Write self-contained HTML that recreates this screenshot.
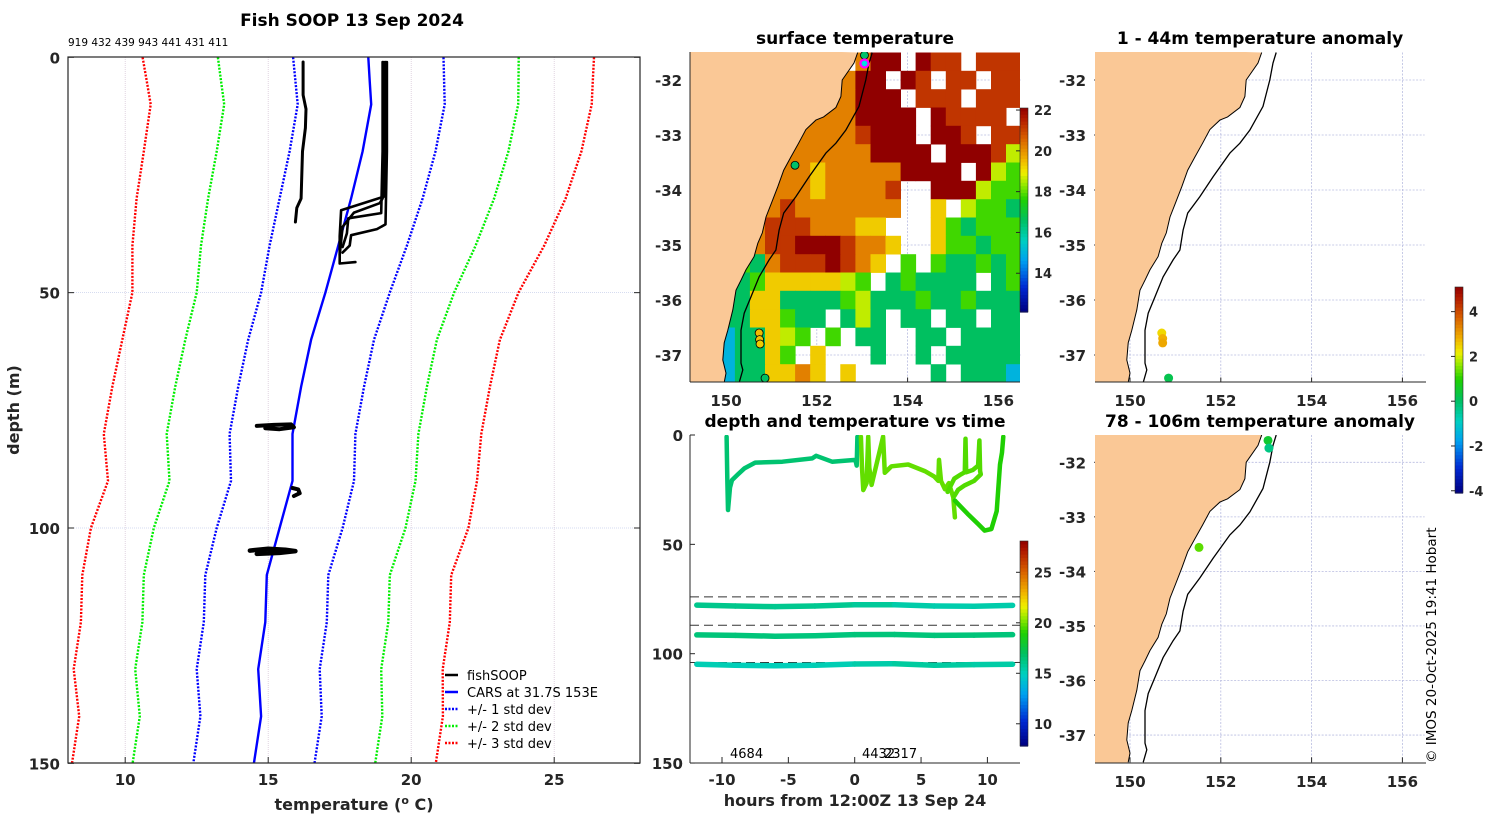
<!DOCTYPE html>
<html><head><meta charset="utf-8">
<style>
html,body{margin:0;padding:0;background:#fff;}
svg{display:block;font-family:"DejaVu Sans","Liberation Sans",sans-serif;}
.tk{font-size:15px;font-weight:bold;fill:#262626;}
.ttl{font-size:17px;font-weight:bold;fill:#000;}
.lab{font-size:16px;font-weight:bold;fill:#262626;}
.cb{font-size:13px;font-weight:bold;fill:#262626;}
.sm{font-size:13px;fill:#000;}
</style></head>
<body>
<svg id="fig" width="1500" height="820" viewBox="0 0 1500 820">
<defs>
<clipPath id="clipL"><rect x="68" y="57" width="572" height="706"/></clipPath>
<clipPath id="clipM1"><rect x="690" y="52" width="330" height="330"/></clipPath>
<clipPath id="clipR1"><rect x="1095" y="52" width="331" height="330"/></clipPath>
<clipPath id="clipR2"><rect x="1095" y="435" width="331" height="328"/></clipPath>
<clipPath id="clipM2"><rect x="690" y="435" width="330" height="328"/></clipPath>
</defs>
<g id="gL"></g>
<g id="gM1"></g>
<g id="gM2"></g>
<g id="gR1"></g>
<g id="gR2"></g>

<text x="352" y="26" text-anchor="middle" style="font-size:17px;font-weight:bold">Fish SOOP 13 Sep 2024</text>
<text x="68" y="46" style="font-size:10.5px">919 432 439 943 441 431 411</text>
<text x="354" y="810" text-anchor="middle" class="lab">temperature (<tspan dy="-6" style="font-size:11px">o</tspan><tspan dy="6"> C)</tspan></text>
<text transform="translate(19,410) rotate(-90)" text-anchor="middle" class="lab">depth (m)</text>

<g>
<line x1="445" y1="675" x2="458" y2="675" stroke="#000" stroke-width="2.5"/>
<text x="467" y="680" class="sm">fishSOOP</text>
<line x1="445" y1="692" x2="458" y2="692" stroke="#0000ff" stroke-width="2.5"/>
<text x="467" y="697" class="sm">CARS at 31.7S 153E</text>
<line x1="445" y1="709" x2="458" y2="709" stroke="#0000ff" stroke-width="2.5" stroke-dasharray="2 1.5"/>
<text x="467" y="714" class="sm">+/- 1 std dev</text>
<line x1="445" y1="726" x2="458" y2="726" stroke="#00ee00" stroke-width="2.5" stroke-dasharray="2 1.5"/>
<text x="467" y="731" class="sm">+/- 2 std dev</text>
<line x1="445" y1="743" x2="458" y2="743" stroke="#ff0000" stroke-width="2.5" stroke-dasharray="2 1.5"/>
<text x="467" y="748" class="sm">+/- 3 std dev</text>
</g>

<text x="855" y="44" text-anchor="middle" class="ttl">surface temperature</text>
<text x="855" y="427" text-anchor="middle" class="ttl">depth and temperature vs time</text>
<text x="855" y="806" text-anchor="middle" class="lab">hours from 12:00Z 13 Sep 24</text>
<text x="1260" y="44" text-anchor="middle" class="ttl">1 - 44m temperature anomaly</text>
<text x="1260" y="427" text-anchor="middle" class="ttl">78 - 106m temperature anomaly</text>
<text x="730" y="758" class="sm">4684</text>
<text x="862" y="758" class="sm">4432</text>
<text x="884" y="758" class="sm">2317</text>
<text transform="translate(1436,763) rotate(-90)" style="font-size:13.5px">© IMOS 20-Oct-2025 19:41 Hobart</text>
</svg>
<script>
// ===== Left panel data =====
const depthLevels=[0,5,10,20,30,40,50,60,70,80,90,100,110,120,130,140,150];
const carsMean=[18.5,18.55,18.6,18.3,17.9,17.45,17.0,16.5,16.15,15.85,15.85,15.4,14.95,14.9,14.65,14.75,14.5];
const carsStd=[2.63,2.6,2.57,2.55,2.5,2.4,2.25,2.2,2.2,2.2,2.15,2.2,2.15,2.15,2.15,2.12,2.12];
const tempTicks=[10,15,20,25];
const depthTicks=[0,50,100,150];
const fishATemp=[16.22,16.22,16.32,16.3,16.2,16.15,16.0,15.95];
const fishADepth=[1,8,11,15,20,30,32,35];
const fishB1Temp=[19.1,19.1,19.05,17.55,17.5,17.5,18.05];
const fishB1Depth=[1,15,29.6,32.5,38,43.8,43.5];
const fishB2Temp=[19.0,19.0,18.95,17.8,17.75,17.6];
const fishB2Depth=[1,20,33.1,34.2,37.4,40.3];
const fishB3Temp=[19.15,19.15,19.1,18.8,17.9,17.85,17.6];
const fishB3Depth=[1,20,35.5,36.5,37.8,40,41.5];
const fishB4Temp=[19.05,19.05,19.0,18.9,18.0,17.6,17.5];
const fishB4Depth=[1,20,30,31,33,36,42];
const blob1Temp=[14.6,15.2,15.8,15.9,15.4,14.9];
const blob1Depth=[78.3,78.1,78.0,78.6,79.0,78.8];
const blob2Temp=[15.85,16.05,16.1,15.9];
const blob2Depth=[91.5,91.8,92.6,93.2];
const blob3Temp=[14.36,15.0,15.6,15.95,15.4,14.6];
const blob3Depth=[104.8,104.4,104.6,104.9,105.3,105.5];

// ===== Map data =====
const lonTicks=[150,152,154,156];
const latTicks=[-32,-33,-34,-35,-36,-37];
const coastLon=[152.9,152.82,152.56,152.53,152.42,152.15,151.98,151.76,151.6,151.43,151.27,151.14,151.0,150.88,150.8,150.7,150.62,150.44,150.33,150.22,150.15,150.04,149.96,149.93,150.0,149.96];
const coastLat=[-31.5,-31.69,-32.0,-32.3,-32.5,-32.67,-32.73,-32.9,-33.15,-33.4,-33.64,-33.94,-34.24,-34.49,-34.78,-34.97,-35.21,-35.45,-35.64,-35.82,-36.18,-36.55,-36.78,-37.09,-37.33,-37.5];
const isoLon=[153.22,153.15,153.08,152.93,152.64,152.42,152.2,151.83,151.54,151.27,151.17,151.1,150.95,150.73,150.55,150.4,150.33,150.33,150.37,150.29];
const isoLat=[-31.5,-31.69,-32.0,-32.48,-32.91,-33.15,-33.33,-33.76,-34.12,-34.42,-34.73,-35.09,-35.27,-35.58,-35.94,-36.24,-36.55,-37.15,-37.27,-37.5];
// SST grid: 22 cols x 18 rows, each char a temperature class ('.'/'L' = no data)
const sstCodeTemps={r:22.2,R:21.2,o:20.2,y:19.3,Y:18.6,g:17.8,G:16.6,c:15.0};
const sstRows=[
"LLLLLLLLLLLorr.rRR.RRR",
"LLLLLLLLLoorr.rR.RR.RR",
"LLLLLLLLLoorrr.RRR.RRR",
"LLLLLLLLooorrrr.rRRRR.",
"LLLLLLLooooRrrr.rrR.RR",
"LLLLLLoooooorrrr.rrrRY",
"LLLLLLooyooooorrrr.rYg",
"LLLLLoooyooooR..rrrYgg",
"LLLLLoRooooooo..y.YggG",
"LLLLoRRRoooyy...ygGggg",
"LLLLoRRrrrRooy..yggGgg",
"LLLgGoRRRrRoy.g.gGGgGg",
"LLLGgyyyyyYg.GgGGGG.Gg",
"LLGGyyGGGGgYGGGgGGgGGG",
"LLGGyygGG.GYG.GG.GG.GG",
"LLcGGyYg.g.GG..GG.GGGG",
"LccGGyg.y...G..G.GGGGG",
"LccGGyyoy.y.....G.GGGc"];
const sstMin=12.1, sstMax=22.1;
const sstDotLon=[153.05,151.52,150.86];
const sstDotLat=[-31.55,-33.55,-37.42];
const sstDotTemp=[16.5,16.5,16.6];
const sstRingLon=[150.73,150.74,150.75];
const sstRingLat=[-36.6,-36.72,-36.8];
const sstRingTemp=[19.5,19.4,19.3];
const sstCbTicks=[14,16,18,20,22];

// ===== Depth-time data =====
const hourTicks=[-10,-5,0,5,10];
const dtDepthTicks=[0,50,100,150];
const track1Time=[-9.65,-9.6,-9.55,-9.4,-9.25,-8.8,-8.3,-7.5,-5.45,-3.2,-2.9,-1.7,0.05,0.15,0.2];
const track1Depth=[0.8,20,34.3,24,20.6,18,15.2,12.6,12.2,10.7,9.5,12.2,11.4,14,0.8];
const track1Temp=16.6;
const track2aTime=[0.47,0.55,0.65,0.9,1.02,1.1,1.27,2.14,2.27,2.77,4.03,5.28,6.0,6.3,6.35,6.5,6.8,7.1,7.43,7.55];
const track2aDepth=[0.8,15,25.2,22,0.8,15,22.8,0.8,17.3,14.3,13.5,16.5,19,21,11.4,21,24.8,22,28.6,37.7];
const track2aTemp=19.8;
const track2bTime=[7.0,7.5,8.0,8.3,8.35,8.4,8.9,9.3,9.4,9.45,9.5,9.0,8.3,7.8,7.5];
const track2bDepth=[26,20,18,17,1.7,17,16,14,2.5,16.5,18,21,23,25,28];
const track2bTemp=19.6;
const track2cTime=[7.55,7.8,8.5,9.3,9.8,10.3,10.7,10.95,11.1,11.2];
const track2cDepth=[30,31.6,36,40.7,43.7,43,34.8,13.5,8,0.8];
const track2cTemp=18.9;
const deepTime=[-11.9,-9,-6,-3,0,3,6,9,11.9];
const deep1Depth=[77.8,78.2,78.5,78.2,77.6,77.6,78.2,78.3,77.9];
const deep1Temp=[16.0,16.0,16.0,15.9,15.9,15.5,15.3,15.3,15.4];
const deep2Depth=[91.4,91.6,92.0,91.8,91.3,91.2,91.6,91.5,91.3];
const deep2Temp=[16.4,16.4,16.4,16.3,16.4,16.4,16.4,16.4,16.4];
const deep3Depth=[104.8,105.3,105.5,105.3,104.7,104.6,105.3,105.0,104.8];
const deep3Temp=[15.2,15.1,15.0,15.1,15.2,15.6,15.6,15.5,15.4];
const binDepths=[74,87,104];
const dtMin=7.8, dtMax=28.1;
const dtCbTicks=[10,15,20,25];

// ===== Anomaly data =====
const anom1Lon=[150.7,150.72,150.72,150.85];
const anom1Lat=[-36.6,-36.7,-36.78,-37.42];
const anom1Val=[2.4,2.8,2.9,0.2];
const anom2Lon=[153.04,153.06,151.52];
const anom2Lat=[-31.6,-31.74,-33.56];
const anom2Val=[0.5,-0.3,1.3];
const anomMin=-4.1, anomMax=5.1;
const anomTicks=[-4,-2,0,2,4];

// ===== helpers =====
const NS='http://www.w3.org/2000/svg';
function mk(tag,attrs,parent){const e=document.createElementNS(NS,tag);for(const k in attrs)e.setAttribute(k,attrs[k]);parent.appendChild(e);return e;}
const stops=[[0,[0,0,128]],[0.12,[0,40,210]],[0.25,[0,160,240]],[0.35,[0,208,192]],[0.45,[0,192,96]],[0.55,[32,208,0]],[0.62,[144,232,0]],[0.68,[240,240,0]],[0.75,[240,176,0]],[0.85,[216,96,0]],[0.95,[176,24,0]],[1,[144,0,0]]];
function cmap(f){f=Math.max(0,Math.min(1,f));for(let i=1;i<stops.length;i++){if(f<=stops[i][0]){const a=stops[i-1],b=stops[i];const t=(f-a[0])/(b[0]-a[0]);const c=a[1].map((v,k)=>Math.round(v+(b[1][k]-v)*t));return 'rgb('+c.join(',')+')';}}return 'rgb(144,0,0)';}
function pts(xs,ys,fx,fy){return xs.map((x,i)=>fx(x).toFixed(1)+','+fy(ys[i]).toFixed(1)).join(' ');}

// ===== Left panel =====
const gL=document.getElementById('gL');
const xT=t=>68+(t-8)*28.6;
const yD=d=>57.3+d*4.707;
tempTicks.forEach(t=>{
  const l=mk('line',{x1:xT(t),x2:xT(t),y1:57,y2:763,stroke:'#d8c8d8','stroke-width':0.8,'stroke-dasharray':'1 1'},gL);
  
  
  mk('line',{x1:xT(t),x2:xT(t),y1:763,y2:757,stroke:'#262626'},gL);
  const tx=mk('text',{x:xT(t),y:785,'text-anchor':'middle',class:'tk'},gL);tx.textContent=t;
  
  
});
depthTicks.forEach(d=>{
  if(d>0&&d<150){const l=mk('line',{x1:68,x2:640,y1:yD(d),y2:yD(d),stroke:'#c8d0ec','stroke-width':0.8,'stroke-dasharray':'1 1'},gL);
  
  }
  mk('line',{x1:68,x2:74,y1:yD(d),y2:yD(d),stroke:'#262626'},gL);
  mk('line',{x1:634,x2:640,y1:yD(d),y2:yD(d),stroke:'#262626'},gL);
  const tx=mk('text',{x:60,y:yD(d)+6,'text-anchor':'end',class:'tk'},gL);tx.textContent=d;
  
  
});
const gLc=mk('g',{'clip-path':'url(#clipL)'},gL);
[[3,'#ff0000'],[2,'#00ee00'],[1,'#0000ff']].forEach(([k,col])=>{
  [-1,1].forEach(s=>{
    const vals=carsMean.map((m,i)=>m+s*k*carsStd[i]);
    const p=mk('polyline',{points:pts(vals,depthLevels,xT,yD),fill:'none',stroke:col,'stroke-width':2.4,'stroke-dasharray':'2 1.5'},gLc);
    
    
  });
});
const cars=mk('polyline',{points:pts(carsMean,depthLevels,xT,yD),fill:'none',stroke:'#0000ff','stroke-width':2.4},gLc);


[[fishATemp,fishADepth,3],[fishB1Temp,fishB1Depth,2.6],[fishB2Temp,fishB2Depth,2.6],[fishB3Temp,fishB3Depth,2.6],[fishB4Temp,fishB4Depth,2.6],[blob1Temp,blob1Depth,4],[blob2Temp,blob2Depth,4],[blob3Temp,blob3Depth,4.5]].forEach(([t,d,w])=>{
  const p=mk('polyline',{points:pts(t,d,xT,yD),fill:'none',stroke:'#000','stroke-width':w,'stroke-linejoin':'round','stroke-linecap':'round'},gLc);
  
  
});
const boxL=mk('rect',{x:68,y:57,width:572,height:706,fill:'none',stroke:'#262626','stroke-width':1.2},gL);



// ===== Map builder =====
function buildMap(g,ox,oy,sc,clipId,bottomLabelY){
  const mx=lon=>ox+(lon-150)*45.4;
  const my=lat=>oy+(-32-lat)*sc;
  const left=mx(149.21),right=mx(156.49),top=my(-31.5),bot=my(-37.5);
  lonTicks.forEach(l=>{
    const gl=mk('line',{x1:mx(l),x2:mx(l),y1:top,y2:bot,stroke:'#b8bce0','stroke-width':0.8,'stroke-dasharray':'2 1.5'},g);
    
    
    mk('line',{x1:mx(l),x2:mx(l),y1:bot,y2:bot-5,stroke:'#262626'},g);
    const tx=mk('text',{x:mx(l),y:bottomLabelY,'text-anchor':'middle',class:'tk'},g);tx.textContent=l;
    
    
  });
  latTicks.forEach(l=>{
    const gl=mk('line',{x1:left,x2:right,y1:my(l),y2:my(l),stroke:'#b8bce0','stroke-width':0.8,'stroke-dasharray':'2 1.5'},g);
    
    
    mk('line',{x1:left,x2:left+5,y1:my(l),y2:my(l),stroke:'#262626'},g);
    const tx=mk('text',{x:left-8,y:my(l)+6,'text-anchor':'end',class:'tk'},g);tx.textContent=l;
    
    
  });
  const inner=mk('g',{'clip-path':'url(#'+clipId+')'},g);
  return {mx,my,left,right,top,bot,inner};
}
function drawCoast(m){
  const lonP=coastLon.concat([149.0,149.0]),latP=coastLat.concat([-37.6,-31.4]);
  const land=mk('polygon',{points:pts(lonP,latP,m.mx,m.my),fill:'#fac896',stroke:'none'},m.inner);
  
  
  const c=mk('polyline',{points:pts(coastLon,coastLat,m.mx,m.my),fill:'none',stroke:'#000','stroke-width':1},m.inner);
  
  
  const iso=mk('polyline',{points:pts(isoLon,isoLat,m.mx,m.my),fill:'none',stroke:'#000','stroke-width':1.3},m.inner);
  
  
}
function colorbar(g,x,y0,y1,vmin,vmax,ticks,name){
  const n=60,h=(y1-y0)/n;
  for(let i=0;i<n;i++){mk('rect',{x:x,y:y0+i*h,width:8,height:h+0.6,fill:cmap(1-(i+0.5)/n)},g);}
  const fr=mk('rect',{x:x,y:y0,width:8,height:y1-y0,fill:'none',stroke:'#262626','stroke-width':0.6},g);
  
  
  ticks.forEach(t=>{const yy=y1-(t-vmin)/(vmax-vmin)*(y1-y0);
    mk('line',{x1:x-4,x2:x,y1:yy,y2:yy,stroke:'#262626'},g);
    const tx=mk('text',{x:x+14,y:yy+5,class:'cb'},g);tx.textContent=t;
    
    });
}

// ===== SST map =====
const gM1=document.getElementById('gM1');
const m1=buildMap(gM1,726,80,55,'clipM1',406);
const cw=(156.5-149.2)/22, ch=6/18;
sstRows.forEach((row,j)=>{
  for(let i=0;i<row.length;i++){
    const t=sstCodeTemps[row[i]];
    if(t===undefined)continue;
    const x0=m1.mx(149.2+i*cw),x1=m1.mx(149.2+(i+1)*cw),y0=m1.my(-31.5-j*ch),y1=m1.my(-31.5-(j+1)*ch);
    const r=mk('rect',{x:x0.toFixed(1),y:y0.toFixed(1),width:(x1-x0+0.4).toFixed(1),height:(y1-y0+0.4).toFixed(1),fill:cmap((t-sstMin)/(sstMax-sstMin))},m1.inner);
    
    
  }
});
drawCoast(m1);
sstDotLon.forEach((lon,i)=>{
  const c=mk('circle',{cx:m1.mx(lon),cy:m1.my(sstDotLat[i]),r:4,fill:cmap((sstDotTemp[i]-sstMin)/(sstMax-sstMin)),stroke:'#000','stroke-width':0.8},m1.inner);
  
  
});
sstRingLon.forEach((lon,i)=>{
  const c=mk('circle',{cx:m1.mx(lon),cy:m1.my(sstRingLat[i]),r:4,fill:cmap((sstRingTemp[i]-sstMin)/(sstMax-sstMin)),stroke:'#000','stroke-width':0.8},m1.inner);
  
  
});
const vessel=mk('circle',{cx:m1.mx(153.05),cy:m1.my(-31.7),r:4,fill:'#00e0e0',stroke:'#ff00ff','stroke-width':2.2},m1.inner);


mk('line',{x1:690,x2:1020,y1:382,y2:382,stroke:'#262626'},gM1);
mk('line',{x1:690,x2:690,y1:52,y2:382,stroke:'#262626'},gM1);
colorbar(gM1,1020,108,312,sstMin,sstMax,sstCbTicks,'sst-colorbar');

// ===== Depth-time =====
const gM2=document.getElementById('gM2');
const xH=t=>854.7+t*13.27;
const yZ=d=>435+d*2.187;
hourTicks.forEach(t=>{mk('line',{x1:xH(t),x2:xH(t),y1:763,y2:757,stroke:'#262626'},gM2);
  const tx=mk('text',{x:xH(t),y:785,'text-anchor':'middle',class:'tk'},gM2);tx.textContent=t;
  
  });
dtDepthTicks.forEach(d=>{mk('line',{x1:690,x2:695,y1:yZ(d),y2:yZ(d),stroke:'#262626'},gM2);
  const tx=mk('text',{x:683,y:yZ(d)+6,'text-anchor':'end',class:'tk'},gM2);tx.textContent=d;
  
  });
const gM2c=mk('g',{'clip-path':'url(#clipM2)'},gM2);
binDepths.forEach(d=>{const l=mk('line',{x1:690,x2:1020,y1:yZ(d),y2:yZ(d),stroke:'#333','stroke-width':1,'stroke-dasharray':'9 5'},gM2c);
  
  });
const dtc=t=>cmap((t-dtMin)/(dtMax-dtMin));
[[track1Time,track1Depth,track1Temp],[track2aTime,track2aDepth,track2aTemp],[track2bTime,track2bDepth,track2bTemp],[track2cTime,track2cDepth,track2cTemp]].forEach(([t,d,tp])=>{
  const p=mk('polyline',{points:pts(t,d,xH,yZ),fill:'none',stroke:dtc(tp),'stroke-width':4.5,'stroke-linejoin':'round','stroke-linecap':'round'},gM2c);
  
  
});
[[deep1Depth,deep1Temp],[deep2Depth,deep2Temp],[deep3Depth,deep3Temp]].forEach(([d,tp])=>{
  for(let i=0;i<deepTime.length-1;i++){
    const p=mk('line',{x1:xH(deepTime[i]),y1:yZ(d[i]),x2:xH(deepTime[i+1]),y2:yZ(d[i+1]),stroke:dtc((tp[i]+tp[i+1])/2),'stroke-width':5.5,'stroke-linecap':'round'},gM2c);
    
    
  }
});
mk('line',{x1:690,x2:1020,y1:763,y2:763,stroke:'#262626'},gM2);
mk('line',{x1:690,x2:690,y1:435,y2:763,stroke:'#262626'},gM2);
colorbar(gM2,1020,541,746,dtMin,dtMax,dtCbTicks,'depth-time-colorbar');

// ===== Anomaly maps =====
const ac=v=>cmap((v-anomMin)/(anomMax-anomMin));
const gR1=document.getElementById('gR1');
const r1=buildMap(gR1,1130,80,55,'clipR1',406);
drawCoast(r1);
anom1Lon.forEach((lon,i)=>{const c=mk('circle',{cx:r1.mx(lon),cy:r1.my(anom1Lat[i]),r:4.5,fill:ac(anom1Val[i])},r1.inner);
  
  });
mk('line',{x1:1095,x2:1426,y1:382,y2:382,stroke:'#262626'},gR1);
const gR2=document.getElementById('gR2');
const r2=buildMap(gR2,1130,462.3,54.55,'clipR2',787);
drawCoast(r2);
anom2Lon.forEach((lon,i)=>{const c=mk('circle',{cx:r2.mx(lon),cy:r2.my(anom2Lat[i]),r:4.5,fill:ac(anom2Val[i])},r2.inner);
  
  });
mk('line',{x1:1095,x2:1426,y1:763,y2:763,stroke:'#262626'},gR2);
colorbar(gR1,1455,287,493,anomMin,anomMax,anomTicks,'anomaly-colorbar');
</script>
</body></html>
